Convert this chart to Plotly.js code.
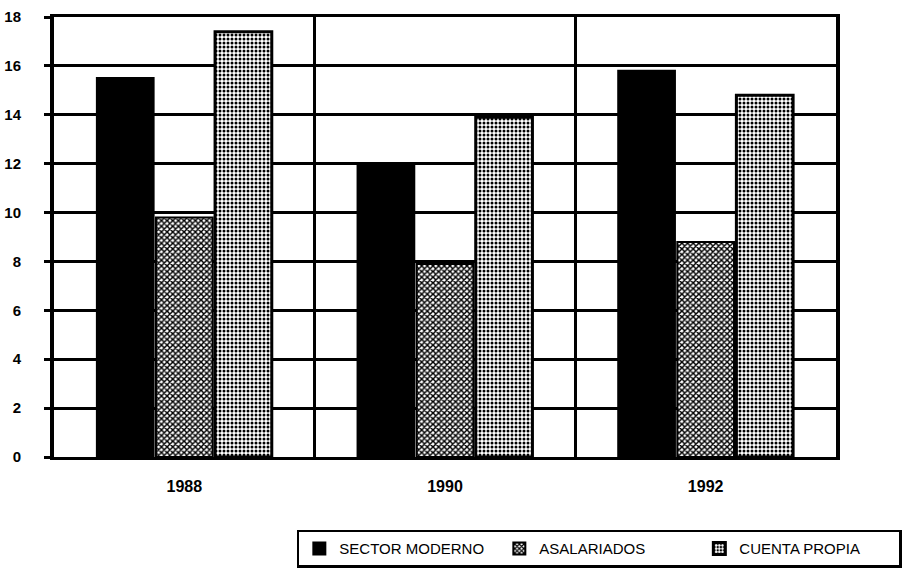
<!DOCTYPE html>
<html>
<head>
<meta charset="utf-8">
<script src="https://cdn.plot.ly/plotly-3.0.1.min.js"></script>
<style>html,body{margin:0;padding:0;background:#fff;}#chart{width:905px;height:581px;}</style>
</head>
<body>
<div id="chart"></div>
<script>
const years = ["1988", "1990", "1992"];
const sectorModerno = [15.5, 12.0, 15.8];
const asalariados = [9.8, 7.9, 8.8];
const cuentaPropia = [17.4, 13.9, 14.8];
const yTicks = [0, 2, 4, 6, 8, 10, 12, 14, 16, 18];

const fontFam = "Liberation Sans, Arial, sans-serif";

const traces = [
  {
    type: "bar", name: "SECTOR MODERNO", x: years, y: sectorModerno,
    marker: {color: "#000000", line: {color: "#000", width: 2}}
  },
  {
    type: "bar", name: "ASALARIADOS", x: years, y: asalariados,
    marker: {color: "#ffffff", line: {color: "#000", width: 2},
      pattern: {shape: "x", size: 4, solidity: 0.6, fgcolor: "#000", bgcolor: "#fff", fillmode: "replace"}}
  },
  {
    type: "bar", name: "CUENTA PROPIA", x: years, y: cuentaPropia,
    marker: {color: "#ffffff", line: {color: "#000", width: 3},
      pattern: {shape: ".", size: 4, solidity: 0.45, fgcolor: "#000", bgcolor: "#fff", fillmode: "replace"}}
  }
];

const layout = {
  width: 905, height: 581,
  margin: {l: 54, r: 69, t: 17, b: 124, autoexpand: false},
  paper_bgcolor: "#fff", plot_bgcolor: "#fff",
  font: {family: fontFam, color: "#000", size: 13},
  barmode: "group", bargap: 0.32, bargroupgap: 0.04,
  showlegend: true,
  legend: {
    orientation: "h", xref: "container", yref: "container",
    x: 0.328, xanchor: "left", y: 0.088, yanchor: "top",
    bordercolor: "#000", borderwidth: 2.5, bgcolor: "#fff",
    font: {family: fontFam, size: 15, color: "#000"},
    entrywidth: 155, entrywidthmode: "pixels",
    traceorder: "normal"
  },
  xaxis: {
    type: "category", tickson: "boundaries", showgrid: true, gridcolor: "#000", gridwidth: 3.5,
    ticks: "", showline: true, linecolor: "#000", linewidth: 3, mirror: true,
    tickfont: {family: fontFam, size: 16, color: "#000", weight: "bold"},
    ticklabelstandoff: 13, zeroline: false, automargin: false
  },
  yaxis: {
    range: [0, 18], tickvals: yTicks, ticktext: yTicks.map(String),
    showgrid: true, gridcolor: "#000", gridwidth: 3,
    ticks: "outside", ticklen: 6, tickwidth: 3, tickcolor: "#000",
    showline: true, linecolor: "#000", linewidth: 4, mirror: true,
    tickfont: {family: fontFam, size: 15, color: "#000", weight: "bold"},
    ticklabelstandoff: 20, zeroline: false, fixedrange: true, automargin: false
  }
};

Plotly.newPlot("chart", traces, layout, {displayModeBar: false, staticPlot: true});
</script>
</body>
</html>
